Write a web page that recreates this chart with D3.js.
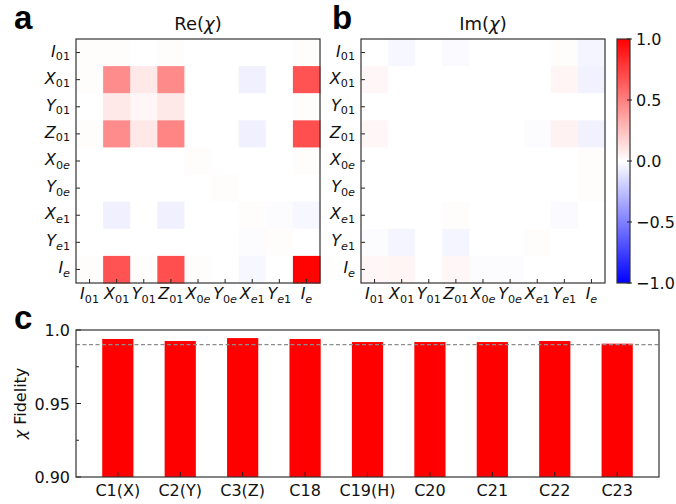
<!DOCTYPE html>
<html><head><meta charset="utf-8">
<script src="https://cdn.jsdelivr.net/npm/d3@7"></script>
<style>body{margin:0;background:#fff} svg{display:block}</style>
</head><body><svg id="c" width="676" height="504"></svg>
<script>
// ---------------- data ----------------
const basis = ["I_01","X_01","Y_01","Z_01","X_0e","Y_0e","X_e1","Y_e1","I_e"];
// rows = basis (top to bottom), cols = basis (left to right)
const reChi = [
  [0.01, 0.01, 0.00, 0.01, 0.00, 0.00, 0.00, 0.00, 0.01],
  [0.01, 0.45, 0.09, 0.46, 0.00, 0.00,-0.06, 0.00, 0.68],
  [0.00, 0.09, 0.03, 0.09, 0.00, 0.00, 0.00, 0.00, 0.01],
  [0.01, 0.45, 0.09, 0.48, 0.00, 0.00,-0.06, 0.00, 0.69],
  [0.00, 0.00, 0.00, 0.00, 0.01, 0.00, 0.00, 0.00, 0.01],
  [0.00, 0.00, 0.00, 0.00, 0.00, 0.01, 0.00, 0.00, 0.00],
  [0.00,-0.06, 0.00,-0.06, 0.00, 0.00, 0.01,-0.01,-0.03],
  [0.00, 0.00, 0.00, 0.00, 0.00, 0.00,-0.01, 0.01, 0.00],
  [0.01, 0.68, 0.01, 0.69, 0.01, 0.00,-0.03, 0.00, 0.99]
];
const imChi = [
  [0.00,-0.03, 0.00,-0.02, 0.00, 0.00, 0.00, 0.01,-0.04],
  [0.03, 0.00, 0.00, 0.00, 0.00, 0.00, 0.00, 0.04,-0.05],
  [0.00, 0.00, 0.00, 0.00, 0.00, 0.00, 0.00, 0.00, 0.00],
  [0.03, 0.00, 0.00, 0.00, 0.00, 0.00,-0.01, 0.05,-0.05],
  [0.00, 0.00, 0.00, 0.00, 0.00, 0.00, 0.00, 0.00, 0.01],
  [0.00, 0.00, 0.00, 0.00, 0.00, 0.00, 0.00, 0.00, 0.01],
  [0.00, 0.00, 0.00, 0.01, 0.00, 0.00, 0.00,-0.02, 0.00],
  [-0.01,-0.04, 0.00,-0.04, 0.00, 0.00, 0.01, 0.00, 0.00],
  [0.03, 0.04, 0.00, 0.03,-0.01,-0.01, 0.00, 0.00, 0.00]
];
const gates = ["C1(X)","C2(Y)","C3(Z)","C18","C19(H)","C20","C21","C22","C23"];
const fidelity = [0.9939,0.9925,0.9945,0.9939,0.9918,0.9918,0.9918,0.9925,0.9907];
const fidelityRef = 0.990;
const fidTicks = [0.90, 0.95, 1.0];
const fidTickLabels = ["0.90","0.95","1.0"];
const fidMinorTicks = [0.925, 0.975];
const cbarTicks = [-1, -0.5, 0, 0.5, 1];
const cbarTickLabels = ["\u22121.0","\u22120.5","0.0","0.5","1.0"];

// ---------------- drawing ----------------
const svg = d3.select("#c");
const FONT = "DejaVu Sans";
const frame = "#333";
const color = d3.scaleLinear().domain([-1,0,1]).range(["#0000ff","#ffffff","#ff0000"]).clamp(true);

function mathLabel(sel, label, size) {
  const [m, sub] = label.split("_");
  sel.append("tspan").attr("font-style","italic").attr("font-size", size).text(m);
  let first = true;
  for (const ch of sub) {
    const t = sel.append("tspan").attr("font-size", size*0.7)
      .attr("font-style", /[a-z]/.test(ch) ? "italic" : "normal").text(ch);
    if (first) { t.attr("dy", size*0.22); first = false; }
  }
}

function heatmap(x0, y0, size, data, title, label, labelX) {
  const g = svg.append("g");
  const xs = d3.scaleBand().domain(basis).range([x0, x0+size]);
  const ys = d3.scaleBand().domain(basis).range([y0, y0+size]);
  const cells = [];
  data.forEach((row,i)=>row.forEach((v,j)=>cells.push({r:basis[i], c:basis[j], v})));
  g.selectAll("rect.cell").data(cells).join("rect")
    .attr("x", d=>xs(d.c)).attr("y", d=>ys(d.r))
    .attr("width", xs.bandwidth()+0.5).attr("height", ys.bandwidth()+0.5)
    .attr("fill", d=>color(d.v));
  basis.forEach(b=>{
    const cx = xs(b)+xs.bandwidth()/2, cy = ys(b)+ys.bandwidth()/2;
    g.append("line").attr("x1",x0).attr("x2",x0+4).attr("y1",cy).attr("y2",cy).attr("stroke","#222");
    g.append("line").attr("x1",cx).attr("x2",cx).attr("y1",y0+size).attr("y2",y0+size-4).attr("stroke","#222");
    const ty = g.append("text").attr("x", x0-6).attr("y", cy+4).attr("text-anchor","end")
      .attr("font-family",FONT).attr("fill","#111");
    mathLabel(ty, b, 16);
    const tx = g.append("text").attr("x", cx).attr("y", y0+size+16).attr("text-anchor","middle")
      .attr("font-family",FONT).attr("fill","#111");
    mathLabel(tx, b, 16);
  });
  g.append("rect").attr("x",x0).attr("y",y0).attr("width",size).attr("height",size)
    .attr("fill","none").attr("stroke",frame).attr("stroke-width",1.2);
  const t = g.append("text").attr("x", x0+size/2).attr("y", y0-9).attr("text-anchor","middle")
    .attr("font-family",FONT).attr("font-size",18).attr("fill","#111");
  t.append("tspan").text(title+"(");
  t.append("tspan").attr("font-style","italic").text("\u03C7");
  t.append("tspan").text(")");
  svg.append("text").attr("x",labelX).attr("y",29).attr("font-family","Liberation Sans")
    .attr("font-weight","bold").attr("font-size",33).attr("fill","#000").text(label);
}

heatmap(76, 39, 244, reChi, "Re", "a", 14);
heatmap(361, 39, 244, imChi, "Im", "b", 332);

// colorbar
const cb = {x:617, y:39, w:13, h:244};
const defs = svg.append("defs");
const grad = defs.append("linearGradient").attr("id","cbg").attr("x1",0).attr("x2",0).attr("y1",1).attr("y2",0);
d3.range(0,1.0001,0.05).forEach(t=>{
  grad.append("stop").attr("offset",t).attr("stop-color", color(-1+2*t));
});
svg.append("rect").attr("x",cb.x).attr("y",cb.y).attr("width",cb.w).attr("height",cb.h).attr("fill","url(#cbg)");
svg.append("rect").attr("x",cb.x).attr("y",cb.y).attr("width",cb.w).attr("height",cb.h)
  .attr("fill","none").attr("stroke",frame).attr("stroke-width",1.2);
const cbs = d3.scaleLinear().domain([-1,1]).range([cb.y+cb.h, cb.y]);
cbarTicks.forEach((v,i)=>{
  svg.append("line").attr("x1",cb.x+cb.w-3).attr("x2",cb.x+cb.w+2).attr("y1",cbs(v)).attr("y2",cbs(v)).attr("stroke","#222");
  svg.append("text").attr("x",cb.x+cb.w+6).attr("y",cbs(v)+6).attr("font-family",FONT)
    .attr("font-size",16).attr("fill","#111").text(cbarTickLabels[i]);
});

// ---------------- bar chart ----------------
const bx0 = 76, bx1 = 659, by0 = 330, by1 = 477;
const xb = d3.scaleBand().domain(gates).range([bx0,bx1]).paddingInner(0.5).paddingOuter(0.42);
const yb = d3.scaleLinear().domain([0.90,1.0]).range([by1,by0]);
const gb = svg.append("g");
gb.selectAll("rect.bar").data(gates).join("rect")
  .attr("x", d=>xb(d)).attr("width", xb.bandwidth())
  .attr("y", (d,i)=>yb(fidelity[i])).attr("height",(d,i)=>yb(0.90)-yb(fidelity[i]))
  .attr("fill","#ff0000");
gb.append("line").attr("x1",bx0).attr("x2",bx1).attr("y1",yb(fidelityRef)).attr("y2",yb(fidelityRef))
  .attr("stroke","#8c8c8c").attr("stroke-width",1.2).attr("stroke-dasharray","4,2.5");
fidTicks.forEach((v,i)=>{
  gb.append("line").attr("x1",bx0).attr("x2",bx0+5).attr("y1",yb(v)).attr("y2",yb(v)).attr("stroke","#222");
  gb.append("text").attr("x",bx0-6).attr("y",yb(v)+6).attr("text-anchor","end")
    .attr("font-family",FONT).attr("font-size",16).attr("fill","#111").text(fidTickLabels[i]);
});
fidMinorTicks.forEach(v=>{
  gb.append("line").attr("x1",bx0).attr("x2",bx0+3).attr("y1",yb(v)).attr("y2",yb(v)).attr("stroke","#222");
});
gates.forEach(gn=>{
  const cx = xb(gn)+xb.bandwidth()/2;
  gb.append("line").attr("x1",cx).attr("x2",cx).attr("y1",by1).attr("y2",by1-5).attr("stroke","#222");
  gb.append("text").attr("x",cx).attr("y",by1+19).attr("text-anchor","middle")
    .attr("font-family",FONT).attr("font-size",16).attr("fill","#111").text(gn);
});
gb.append("rect").attr("x",bx0).attr("y",by0).attr("width",bx1-bx0).attr("height",by1-by0)
  .attr("fill","none").attr("stroke",frame).attr("stroke-width",1.2);
const yl = gb.append("text").attr("transform",`translate(26,${(by0+by1)/2}) rotate(-90)`)
  .attr("text-anchor","middle").attr("font-family",FONT).attr("font-size",16).attr("fill","#111");
yl.append("tspan").attr("font-style","italic").text("\u03C7");
yl.append("tspan").text(" Fidelity");
svg.append("text").attr("x",14).attr("y",329).attr("font-family","Liberation Sans")
  .attr("font-weight","bold").attr("font-size",33).attr("fill","#000").text("c");
</script></body></html>
